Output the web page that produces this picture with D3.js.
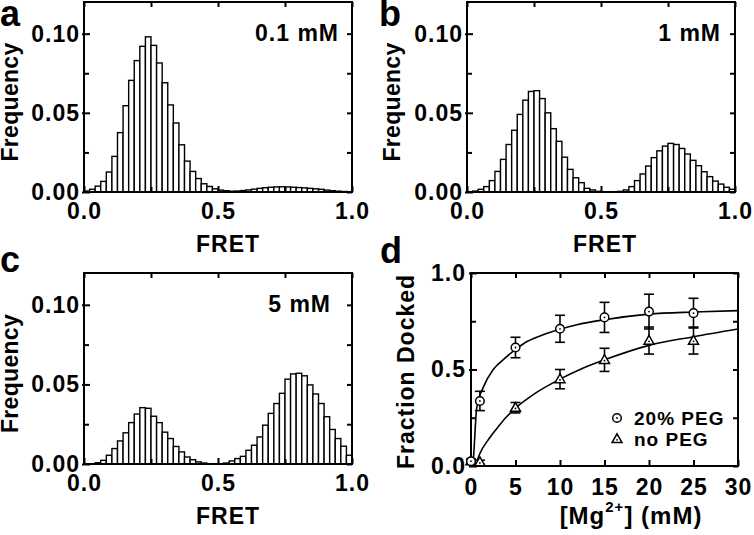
<!DOCTYPE html>
<html><head><meta charset="utf-8">
<script src="https://cdn.jsdelivr.net/npm/d3@7"></script>
<style>
body{margin:0;background:#fff}
svg{display:block}
text{font-family:"Liberation Sans",Arial,Helvetica,sans-serif;font-weight:bold;fill:#000}
</style>
</head><body>
<svg id="chart" width="754" height="535"></svg>
<script>
// ---------------- DATA ----------------
const binCount = 48; // FRET histogram bins over [0,1]
const freqA = [0.0006,0.0017,0.0037,0.0067,0.0126,0.0225,0.0375,0.0545,0.0705,0.083,0.092,0.098,0.0926,0.0815,0.069,0.055,0.0436,0.0298,0.0195,0.013,0.0085,0.0052,0.0035,0.002,0.0012,0.0008,0.0005,0.0006,0.0009,0.0013,0.0018,0.0023,0.0027,0.003,0.0032,0.0033,0.0032,0.003,0.0028,0.0026,0.0023,0.002,0.0017,0.0012,0.0008,0.0005,0.0003,0.0002];
const freqB = [0.0002,0.0006,0.0017,0.0034,0.0072,0.013,0.0206,0.030,0.039,0.049,0.058,0.0635,0.064,0.059,0.050,0.040,0.032,0.022,0.0143,0.009,0.0059,0.0023,0.0013,0.0004,0.0002,0.0001,0.0002,0.0004,0.0013,0.0034,0.0072,0.0114,0.0164,0.0217,0.026,0.029,0.0307,0.030,0.0275,0.024,0.020,0.0166,0.0128,0.0097,0.0069,0.005,0.003,0.0017];
const freqC = [0,0.0001,0.0008,0.0023,0.0055,0.0097,0.0145,0.0196,0.026,0.0314,0.0354,0.035,0.030,0.026,0.020,0.016,0.011,0.0076,0.0044,0.0027,0.0013,0.0006,0.0002,0.0001,0.0002,0.0006,0.0019,0.0034,0.0048,0.0086,0.0118,0.017,0.0244,0.0318,0.038,0.0444,0.0533,0.0566,0.057,0.0554,0.0497,0.044,0.038,0.0297,0.0217,0.016,0.0112,0.0055];
const histTitles = ["0.1 mM", "1 mM", "5 mM"];
const freqTicks = [0, 0.05, 0.10];
const freqMinor = [0.025, 0.075];
const fretTicks = [0, 0.5, 1.0];
const fretMinor = [0.25, 0.75];

const mgConc = [0, 1, 5, 10, 15, 20, 25];
const pegMean = [0.025, 0.337, 0.614, 0.711, 0.77, 0.80, 0.792];
const pegErr  = [0.01, 0.05, 0.053, 0.07, 0.078, 0.09, 0.077];
const noPegMean = [0.025, 0.02, 0.302, 0.45, 0.55, 0.65, 0.65];
const noPegErr  = [0.01, 0.01, 0.027, 0.05, 0.06, 0.07, 0.07];
// fitted curves
const pegFitX = [0, 0.2, 0.64, 1.4, 2.5, 3.6, 4.9, 6.3, 8.1, 9.8, 11.9, 15, 20, 25, 30];
const pegFitY = [0, 0.014, 0.30, 0.41, 0.50, 0.55, 0.60, 0.645, 0.68, 0.706, 0.732, 0.758, 0.787, 0.798, 0.805];
const noPegFitX = [0.7, 1, 2, 3, 4, 5, 7, 10, 12.5, 15, 20, 25, 30];
const noPegFitY = [0.03, 0.065, 0.14, 0.20, 0.255, 0.30, 0.37, 0.45, 0.505, 0.55, 0.625, 0.67, 0.71];
const mgTicks = [0, 5, 10, 15, 20, 25, 30];
const fracTicks = [0, 0.5, 1.0];
const fracMinor = [0.25, 0.75];
const legendLabels = ["20% PEG", "no PEG"];
const panelLetters = ["a", "b", "c", "d"];

// ---------------- DRAWING ----------------
const svg = d3.select("#chart");
const FONT = 23;
const LS = 1; // letter spacing

function styleAxis(g) {
  g.select(".domain").remove();
  g.selectAll(".tick line").attr("stroke", "#000").attr("stroke-width", 2);
  g.attr("font-family", null).attr("font-size", FONT);
  g.selectAll("text").attr("fill", "#000").attr("letter-spacing", LS);
}

function frame(g, x, y, xMajor, xMinor, yMajor, yMinor, xFmt, yFmt, pad) {
  const [x0, x1] = x.range();
  const [y0, y1] = y.range(); // y0 bottom, y1 top
  const H = y0 - y1, W = x1 - x0;
  g.append("g").attr("transform", `translate(0,${y0})`)
    .call(d3.axisBottom(x).tickValues(xMajor).tickFormat(xFmt).tickSizeInner(-6).tickSizeOuter(0).tickPadding(pad.x))
    .call(styleAxis);
  g.append("g").attr("transform", `translate(0,${y0})`)
    .call(d3.axisBottom(x).tickValues(xMinor).tickFormat("").tickSizeInner(-5).tickSizeOuter(0))
    .call(styleAxis);
  g.append("g").attr("transform", `translate(0,${y1})`)
    .call(d3.axisTop(x).tickValues(xMajor.concat(xMinor)).tickFormat("").tickSizeInner(-5).tickSizeOuter(0))
    .call(styleAxis);
  g.append("g").attr("transform", `translate(${x0},0)`)
    .call(d3.axisLeft(y).tickValues(yMajor).tickFormat(yFmt).tickSizeInner(-6).tickSizeOuter(0).tickPadding(pad.y))
    .call(styleAxis);
  g.append("g").attr("transform", `translate(${x0},0)`)
    .call(d3.axisLeft(y).tickValues(yMajor).tickFormat("").tickSizeInner(2).tickSizeOuter(0))
    .call(styleAxis);
  g.append("g").attr("transform", `translate(${x0},0)`)
    .call(d3.axisLeft(y).tickValues(yMinor).tickFormat("").tickSizeInner(-5).tickSizeOuter(0))
    .call(styleAxis);
  g.append("g").attr("transform", `translate(${x1},0)`)
    .call(d3.axisRight(y).tickValues(yMajor.concat(yMinor)).tickFormat("").tickSizeInner(-5).tickSizeOuter(0))
    .call(styleAxis);
  g.append("rect").attr("x", x0).attr("y", y1).attr("width", W).attr("height", H)
    .attr("fill", "none").attr("stroke", "#000").attr("stroke-width", 2);
}

const hists = [
  {data: freqA, box: {l: 84, r: 352, t: 2, b: 192}, title: histTitles[0], tx: 339, ty: 41, letter: panelLetters[0], lx: 0, ly: 26, ylab: 18, xlab: 228},
  {data: freqB, box: {l: 467, r: 735, t: 2, b: 192}, title: histTitles[1], tx: 721, ty: 41, letter: panelLetters[1], lx: 379, ly: 26, ylab: 400, xlab: 605},
  {data: freqC, box: {l: 84, r: 352, t: 273, b: 464}, title: histTitles[2], tx: 331, ty: 312, letter: panelLetters[2], lx: 0, ly: 272, ylab: 18, xlab: 228}
];

hists.forEach(p => {
  const g = svg.append("g");
  const x = d3.scaleLinear().domain([0, 1]).range([p.box.l, p.box.r]);
  const y = d3.scaleLinear().domain([0, 0.12]).range([p.box.b, p.box.t]);
  g.selectAll("rect.bar").data(p.data).join("rect").attr("class", "bar")
    .attr("x", (d, i) => x(i / binCount))
    .attr("width", (d, i) => x((i + 1) / binCount) - x(i / binCount))
    .attr("y", d => y(d))
    .attr("height", d => y(0) - y(d))
    .attr("fill", "#fff").attr("stroke", "#000").attr("stroke-width", 1.4);
  frame(g, x, y, fretTicks, fretMinor, freqTicks, freqMinor,
        d3.format(".1f"), d3.format(".2f"), {x: 11, y: 4});
  g.append("text").attr("x", p.tx).attr("y", p.ty).attr("text-anchor", "end")
    .attr("font-size", FONT).attr("letter-spacing", LS).text(p.title);
  g.append("text").attr("x", p.xlab).attr("y", p.box.b + 60).attr("text-anchor", "middle")
    .attr("font-size", FONT).attr("letter-spacing", LS).text("FRET");
  g.append("text").attr("transform", `translate(${p.ylab},${(p.box.t + p.box.b) / 2 + 5}) rotate(-90)`)
    .attr("text-anchor", "middle").attr("font-size", FONT).attr("letter-spacing", 0.3).text("Frequency");
  g.append("text").attr("x", p.lx).attr("y", p.ly).attr("font-size", 36).text(p.letter);
});

// panel d
{
  const g = svg.append("g");
  const box = {l: 471, r: 738, t: 273, b: 466};
  const x = d3.scaleLinear().domain([0, 30]).range([box.l, box.r]);
  const y = d3.scaleLinear().domain([0, 1]).range([box.b, box.t]);
  frame(g, x, y, mgTicks, [], fracTicks, fracMinor, d3.format("d"), d3.format(".1f"), {x: 13, y: 5});

  const line = d3.line().x(d => x(d[0])).y(d => y(d[1])).curve(d3.curveMonotoneX);
  g.append("path").attr("d", line(d3.zip(pegFitX, pegFitY)))
    .attr("fill", "none").attr("stroke", "#000").attr("stroke-width", 1.6);
  g.append("path").attr("d", line(d3.zip(noPegFitX, noPegFitY)))
    .attr("fill", "none").attr("stroke", "#000").attr("stroke-width", 1.6);

  function errBars(means, errs) {
    const eg = g.append("g").attr("stroke", "#000").attr("stroke-width", 1.6);
    mgConc.forEach((m, i) => {
      const cx = x(m), hi = y(means[i] + errs[i]), lo = y(means[i] - errs[i]);
      eg.append("line").attr("x1", cx).attr("x2", cx).attr("y1", hi).attr("y2", lo);
      eg.append("line").attr("x1", cx - 5).attr("x2", cx + 5).attr("y1", hi).attr("y2", hi);
      eg.append("line").attr("x1", cx - 5).attr("x2", cx + 5).attr("y1", lo).attr("y2", lo);
    });
  }
  errBars(pegMean, pegErr);
  errBars(noPegMean, noPegErr);

  const triPath = "M0,-5.2L5,3.6L-5,3.6Z";
  function circleMark(sel, cx, cy) {
    sel.append("circle").attr("cx", cx).attr("cy", cy).attr("r", 4.3)
      .attr("fill", "#fff").attr("stroke", "#000").attr("stroke-width", 1.5);
    sel.append("circle").attr("cx", cx).attr("cy", cy).attr("r", 0.9).attr("fill", "#000");
  }
  function triMark(sel, cx, cy) {
    sel.append("path").attr("d", triPath).attr("transform", `translate(${cx},${cy})`)
      .attr("fill", "#fff").attr("stroke", "#000").attr("stroke-width", 1.5);
    sel.append("circle").attr("cx", cx).attr("cy", cy + 0.8).attr("r", 0.9).attr("fill", "#000");
  }
  mgConc.forEach((m, i) => triMark(g, x(m), y(noPegMean[i])));
  mgConc.forEach((m, i) => circleMark(g, x(m), y(pegMean[i])));

  // legend
  circleMark(g, 617, 418);
  g.append("text").attr("x", 634).attr("y", 425).attr("font-size", 19).attr("letter-spacing", LS).text(legendLabels[0]);
  triMark(g, 617, 439);
  g.append("text").attr("x", 634).attr("y", 446).attr("font-size", 19).attr("letter-spacing", LS).text(legendLabels[1]);

  // axis titles
  const xt = g.append("text").attr("x", 631).attr("y", 524).attr("text-anchor", "middle")
    .attr("font-size", 24).attr("letter-spacing", LS);
  xt.append("tspan").text("[Mg");
  xt.append("tspan").attr("font-size", 15).attr("dy", -12).text("2+");
  xt.append("tspan").attr("dy", 12).text("] (mM)");
  g.append("text").attr("transform", `translate(414,${(box.t + box.b) / 2 + 2}) rotate(-90)`)
    .attr("text-anchor", "middle").attr("font-size", FONT).attr("letter-spacing", LS).text("Fraction Docked");
  g.append("text").attr("x", 380).attr("y", 263).attr("font-size", 36).text(panelLetters[3]);
}
</script>
</body></html>
